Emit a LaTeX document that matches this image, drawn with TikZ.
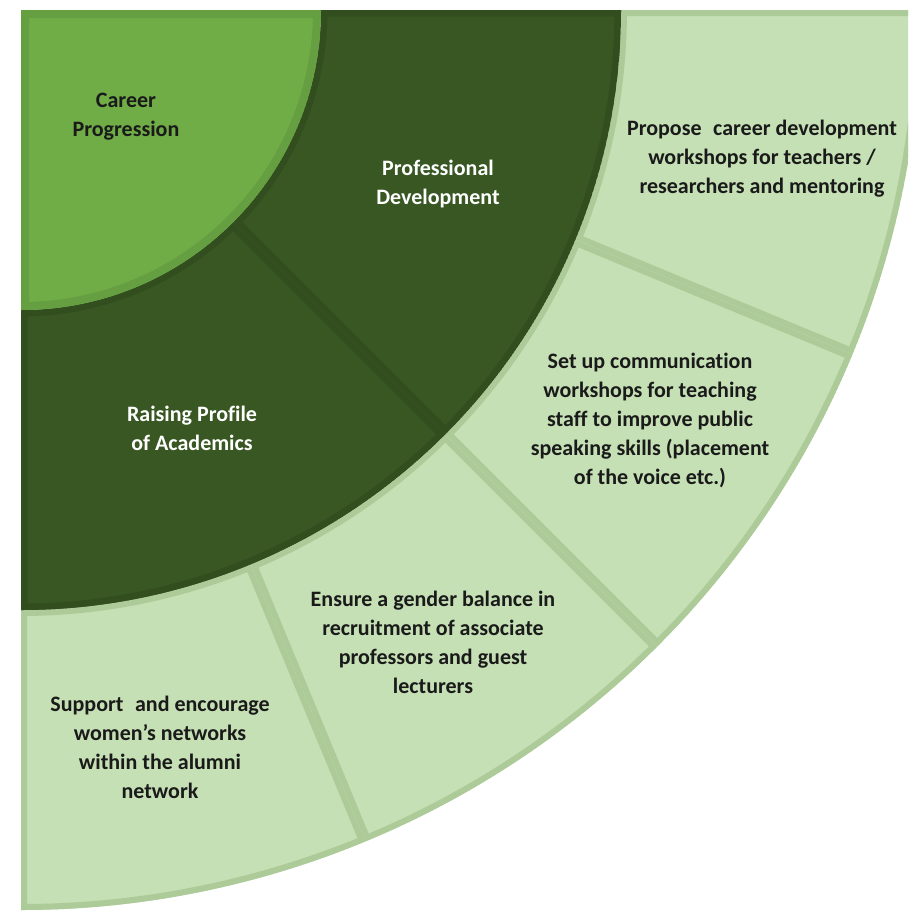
\documentclass[tikz,border=0pt]{standalone}
\usepackage{fontspec}
\setmainfont{Carlito}[Ligatures=CommonOff]
\definecolor{innerfill}{HTML}{70AD47}
\definecolor{innerborder}{HTML}{659F41}
\definecolor{darkfill}{HTML}{385723}
\definecolor{darkborder}{HTML}{324E1F}
\definecolor{outerfill}{HTML}{C5E0B4}
\definecolor{outerborder}{HTML}{ADCB99}
\definecolor{textdark}{HTML}{1A1A1A}
% annular sector: start angle, end angle, inner radius, outer radius
\newcommand{\ringseg}[4]{(#1:#3) arc[start angle=#1,end angle=#2,radius=#3] -- (#2:#4) arc[start angle=#2,end angle=#1,radius=#4] -- cycle}
% filled sector with an inner border: path, fill colour, border colour, doubled border width
\newcommand{\borderedsector}[4]{%
  \begin{scope}
    \clip #1;
    \fill[#2] #1;
    \draw[#3, line width=#4] #1;
  \end{scope}}
\begin{document}
\begin{tikzpicture}[x=1pt,y=1pt,
  label/.style={align=center, inner sep=0pt, font=\fontsize{22}{29}\selectfont\bfseries},
  darklabel/.style={label, text=textdark},
  whitelabel/.style={label, text=white}]
\useasboundingbox (0,0) rectangle (908,-913);
\fill[white] (0,0) rectangle (908,-913);
\begin{scope}
  \clip (21,-10) rectangle (908,-913);
  \begin{scope}[shift={(21,-10)}]
    % outer ring: four actions
    \borderedsector{\ringseg{0}{-22.5}{600}{900}}{outerfill}{outerborder}{12}
    \borderedsector{\ringseg{-22.5}{-45}{600}{900}}{outerfill}{outerborder}{12}
    \borderedsector{\ringseg{-45}{-67.5}{600}{900}}{outerfill}{outerborder}{12}
    \borderedsector{\ringseg{-67.5}{-90}{600}{900}}{outerfill}{outerborder}{12}
    % middle ring: two themes
    \borderedsector{\ringseg{0}{-45}{300}{600}}{darkfill}{darkborder}{13}
    \borderedsector{\ringseg{-45}{-90}{300}{600}}{darkfill}{darkborder}{13}
    % centre: career progression
    \borderedsector{(0,0) -- (0:300) arc[start angle=0,end angle=-90,radius=300] -- cycle}{innerfill}{innerborder}{16}
  \end{scope}
\end{scope}
\node[darklabel]  (cp) at (126,-117) {Career\\Progression};
\node[whitelabel] (pd) at (438,-184) {Professional\\Development};
\node[whitelabel] (rp) at (192,-428) {Raising Profile\\of Academics};
\node[darklabel]  (a1) at (762,-159) {Propose\hspace{0.3em} career development\\workshops for teachers /\\researchers and mentoring};
\node[darklabel]  (a2) at (650,-420) {Set up communication\\workshops for teaching\\staff to improve public\\speaking skills (placement\\of the voice etc.)};
\node[darklabel]  (a3) at (433,-642) {Ensure a gender balance in\\recruitment of associate\\professors and guest\\lecturers};
\node[darklabel]  (a4) at (160,-747) {Support\hspace{0.3em} and encourage\\women’s networks\\within the alumni\\network};
\end{tikzpicture}
\end{document}
